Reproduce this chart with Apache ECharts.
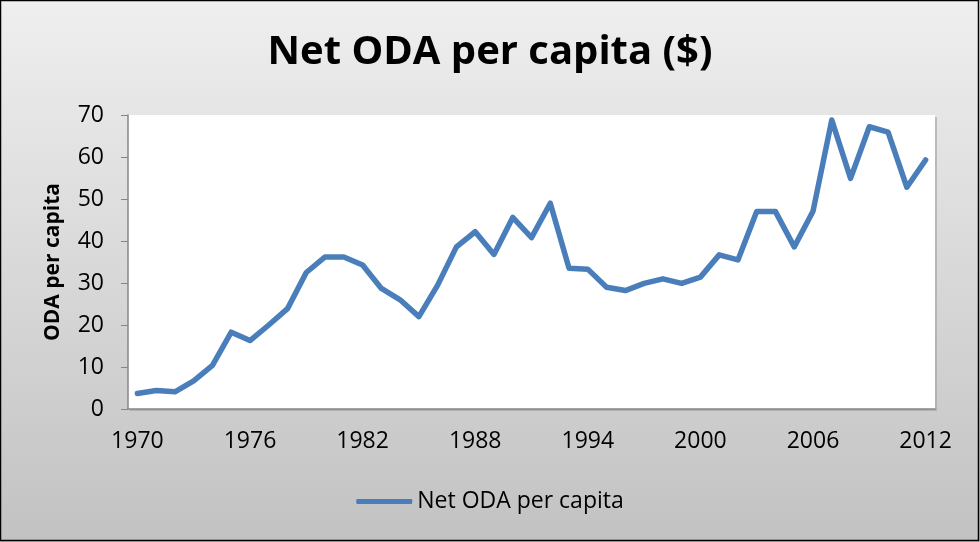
<!DOCTYPE html>
<html><head><meta charset="utf-8">
<script src="https://cdn.jsdelivr.net/npm/echarts@6/dist/echarts.min.js"></script>
<style>html,body{margin:0;padding:0;background:#fff}#c{width:980px;height:542px}</style>
</head><body><div id="c"></div>
<script>
const years = [];
for (let y = 1970; y <= 2012; y++) years.push(String(y));
const odaPerCapita = [3.7,4.4,4.1,6.7,10.4,18.3,16.3,20.0,23.9,32.5,36.2,36.2,34.3,28.7,26.0,22.0,29.5,38.6,42.2,36.8,45.6,40.8,49.0,33.5,33.3,29.0,28.2,29.9,31.0,29.9,31.4,36.7,35.5,47.0,47.0,38.6,47.1,68.8,54.9,67.2,65.9,52.8,59.3];
const seriesName = 'Net ODA per capita';
const titleText = 'Net ODA per capita ($)';
const yAxisName = 'ODA per capita';

const chart = echarts.init(document.getElementById('c'), null, {renderer:'canvas'});
const font = 'Open Sans';
chart.setOption({
  backgroundColor: {type:'linear',x:0,y:0,x2:0,y2:1,colorStops:[{offset:0,color:'#efefef'},{offset:1,color:'#c2c2c2'}]},
  animation:false,
  graphic:[
    {type:'rect',shape:{x:0.5,y:0.5,width:978,height:540},style:{fill:'none',stroke:'#000',lineWidth:1.5},z:100},
    {type:'rect',shape:{x:130,y:117,width:807,height:294},style:{fill:'#a0a0a0',opacity:0.6},z:-1},
  ],
  title:{text:titleText,left:'center',top:28,textStyle:{fontFamily:font,fontWeight:'bold',fontSize:40,color:'#000'}},
  legend:{top:485,left:'center',itemWidth:56,itemHeight:5,itemGap:4,icon:'roundRect',
    textStyle:{fontFamily:font,fontSize:23,color:'#000'},data:[{name:seriesName}]},
  grid:{left:128,right:45,top:115,bottom:133,show:true,backgroundColor:'#fff',borderWidth:0},
  xAxis:{type:'category',data:years,boundaryGap:true,
    axisLine:{lineStyle:{color:'#868686',width:1.5}},axisTick:{show:false},
    axisLabel:{interval:5,fontFamily:font,fontSize:23,color:'#000',margin:21}},
  yAxis:{type:'value',min:0,max:70,interval:10,name:yAxisName,nameLocation:'middle',nameGap:64,
    nameTextStyle:{fontFamily:font,fontWeight:'bold',fontSize:21,color:'#000'},
    axisLine:{show:true,lineStyle:{color:'#868686',width:1.5}},axisTick:{show:true,length:7,lineStyle:{color:'#868686'}},
    splitLine:{show:false},
    axisLabel:{fontFamily:font,fontSize:23,color:'#000',margin:24}},
  series:[{name:seriesName,type:'line',data:odaPerCapita,symbol:'none',
    lineStyle:{color:'#4a7ebb',width:5.5,cap:'round',join:'round'},itemStyle:{color:'#4a7ebb'}}]
});
</script></body></html>
